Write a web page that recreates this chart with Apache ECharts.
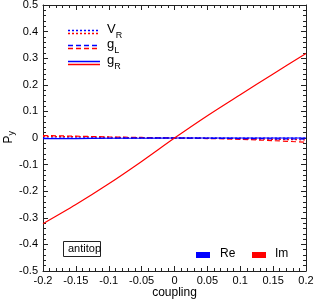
<!DOCTYPE html>
<html><head><meta charset="utf-8">
<script src="https://cdn.jsdelivr.net/npm/echarts@6/dist/echarts.min.js"></script>
<style>html,body{margin:0;padding:0;background:#fff}#c{width:317px;height:300px}</style>
</head><body><div id="c"></div>
<script>
const coupling = [-0.2, -0.15, -0.1, -0.05, 0, 0.05, 0.1, 0.15, 0.2];
const imGR = [-0.322, -0.250, -0.172, -0.088, 0, 0.084, 0.163, 0.241, 0.318];
const imGL = [0.009, 0.007, 0.004, 0.002, 0, -0.002, -0.005, -0.010, -0.016];
const imVR = [0.006, 0.005, 0.003, 0.001, 0, -0.001, -0.003, -0.005, -0.007];
const reGR = [-0.002, -0.002, -0.001, -0.001, 0, 0, 0, 0, 0];
const reGL = [-0.001, -0.001, -0.001, 0, 0, -0.001, -0.002, -0.003, -0.004];
const reVR = [0, 0, 0, 0, 0, 0, 0, 0, 0];
const xTicks = [-0.2, 0.2, 0.05];
const yTicks = [-0.5, 0.5, 0.1];

const pair = arr => coupling.map((x, i) => [x, arr[i]]);
const FONT = 'Liberation Sans';
const fmt = v => { const r = Math.round(v * 100) / 100; return r === 0 ? '0' : String(r); };

const chart = echarts.init(document.getElementById('c'), null, {renderer: 'canvas'});
const axisCommon = () => ({
  axisLine: {show: true, onZero: false, lineStyle: {color: '#222', width: 1}},
  axisTick: {show: true, inside: true, length: 5, lineStyle: {color: '#222'}},
  minorTick: {show: true, splitNumber: 5, length: 3, lineStyle: {color: '#222'}},
  splitLine: {show: false},
});
function ser(name, data, color, type, z) {
  return {type: 'line', name, data: pair(data), showSymbol: false, smooth: 0.3, z,
    xAxisIndex: 0, yAxisIndex: 0,
    lineStyle: {color, width: 1.2, type}};
}
const legX1 = 68, legX2 = 100;
const legRows = [[32, 'V', [2, 2]], [47, 'g', [5, 3]], [63, 'g', 'solid']];
const subs = ['R', 'L', 'R'];
const graphics = [];
legRows.forEach((r, i) => {
  graphics.push({type: 'line', shape: {x1: legX1, y1: r[0] - 1.5, x2: legX2, y2: r[0] - 1.5},
    style: {stroke: '#0000ff', lineWidth: 1.5, lineDash: r[2] === 'solid' ? null : r[2]}});
  graphics.push({type: 'line', shape: {x1: legX1, y1: r[0] + 1.5, x2: legX2, y2: r[0] + 1.5},
    style: {stroke: '#ff0000', lineWidth: 1.5, lineDash: r[2] === 'solid' ? null : r[2]}});
  graphics.push({type: 'text', left: 107, top: r[0] - 9,
    style: {text: '{m|' + r[1] + '}{s|' + subs[i] + '}', rich: {
      m: {fontFamily: FONT, fontSize: 13, fill: '#000', verticalAlign: 'top'},
      s: {fontFamily: FONT, fontSize: 9, fill: '#000', padding: [8, 0, 0, 0]}}}});
});
graphics.push({type: 'rect', shape: {x: 63.5, y: 241.5, width: 37, height: 15},
  style: {fill: '#fff', stroke: '#222', lineWidth: 1}});
graphics.push({type: 'text', left: 68, top: 243, style: {text: 'antitop', fontFamily: FONT, fontSize: 11, fill: '#000'}});
graphics.push({type: 'rect', shape: {x: 196, y: 252, width: 14, height: 6}, style: {fill: '#0000ff'}});
graphics.push({type: 'text', left: 220, top: 248, style: {text: 'Re', fontFamily: FONT, fontSize: 12, fill: '#000'}});
graphics.push({type: 'rect', shape: {x: 252, y: 252, width: 14, height: 6}, style: {fill: '#ff0000'}});
graphics.push({type: 'text', left: 275, top: 248, style: {text: 'Im', fontFamily: FONT, fontSize: 12, fill: '#000'}});
graphics.push({type: 'text', left: 3, top: 131, rotation: Math.PI / 2,
  style: {text: '{m|P}{s|y}', rich: {
    m: {fontFamily: FONT, fontSize: 12, fill: '#000'},
    s: {fontFamily: FONT, fontSize: 9, fill: '#000', padding: [6, 0, 0, 0]}}}});

chart.setOption({
  animation: false,
  backgroundColor: '#fff',
  grid: {left: 43, right: 11, top: 5, bottom: 29, show: false, outerBoundsMode: 'none', containLabel: false},
  xAxis: [
    Object.assign({type: 'value', position: 'bottom', min: xTicks[0], max: xTicks[1], interval: xTicks[2],
      name: 'coupling', nameLocation: 'middle', nameGap: 16, nameMoveOverlap: false,
      nameTextStyle: {fontFamily: FONT, fontSize: 12, color: '#000'},
      axisLabel: {formatter: fmt, fontFamily: FONT, fontSize: 11, color: '#000', margin: 4}}, axisCommon()),
    Object.assign({type: 'value', position: 'top', min: xTicks[0], max: xTicks[1], interval: xTicks[2],
      axisLabel: {show: false}}, axisCommon())
  ],
  yAxis: [
    Object.assign({type: 'value', position: 'left', min: yTicks[0], max: yTicks[1], interval: yTicks[2],
      axisLabel: {formatter: fmt, fontFamily: FONT, fontSize: 11, color: '#000', margin: 5}}, axisCommon()),
    Object.assign({type: 'value', position: 'right', min: yTicks[0], max: yTicks[1], interval: yTicks[2],
      axisLabel: {show: false}}, axisCommon())
  ],
  series: [
    ser('Im V_R', imVR, '#ff0000', [2, 2], 2),
    ser('Im g_L', imGL, '#ff0000', [5, 3], 2),
    ser('Re V_R', reVR, '#0000ff', [2, 2], 3),
    ser('Re g_L', reGL, '#0000ff', [5, 3], 3),
    ser('Re g_R', reGR, '#0000ff', 'solid', 3),
    ser('Im g_R', imGR, '#ff0000', 'solid', 4)
  ],
  graphic: graphics
});
</script></body></html>
